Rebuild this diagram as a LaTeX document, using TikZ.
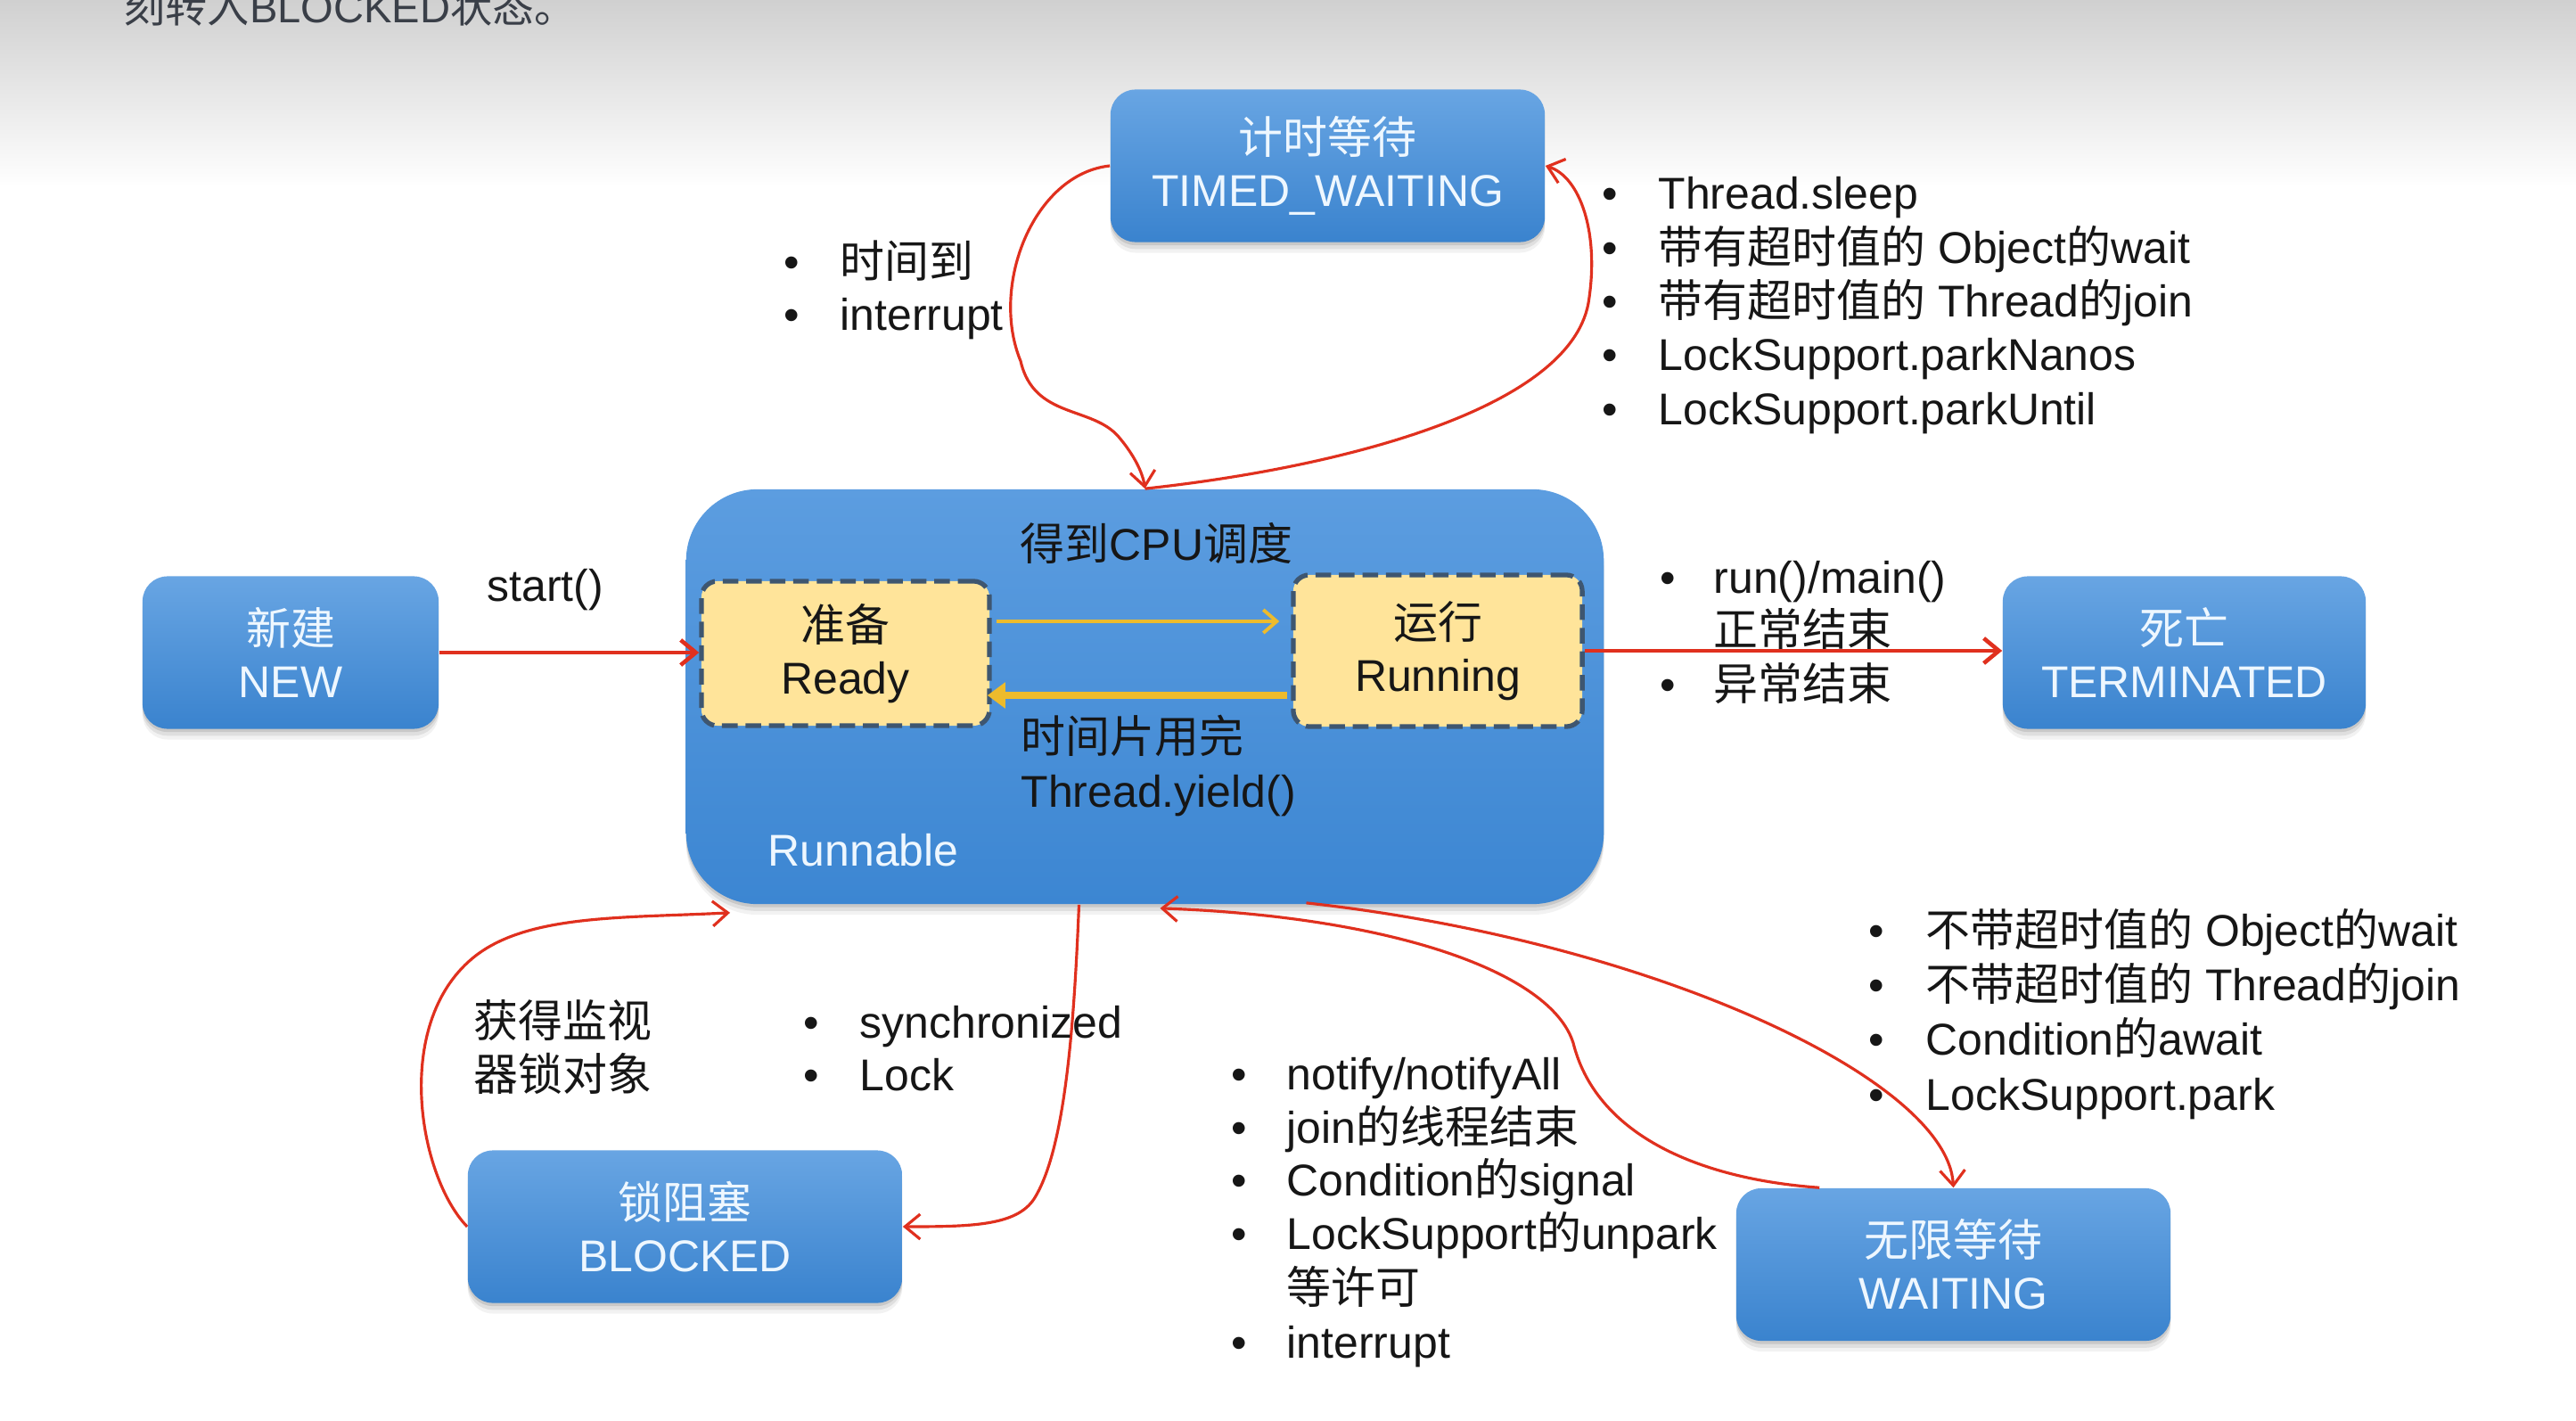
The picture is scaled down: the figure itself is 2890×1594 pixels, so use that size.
\documentclass[tikz,border=0pt]{standalone}
\usepackage{fontspec}
\setmainfont{Liberation Sans}
\newfontfamily\cjkfont{Noto Sans CJK SC}
\newfontfamily\latinfont{Liberation Sans}
\usetikzlibrary{arrows.meta,shadows,calc}
\XeTeXinterchartokenstate=1
\newXeTeXintercharclass\CJKcls
\newcount\cjkcnt
\cjkcnt="4E00
\loop
  \XeTeXcharclass\cjkcnt=\CJKcls
  \advance\cjkcnt by 1
\ifnum\cjkcnt<"A000 \repeat
\XeTeXcharclass"3002=\CJKcls
\XeTeXinterchartoks 0 \CJKcls = {\cjkfont}
\XeTeXinterchartoks 4095 \CJKcls = {\cjkfont}
\XeTeXinterchartoks \CJKcls 0 = {\latinfont}
\XeTeXinterchartoks \CJKcls 4095 = {\latinfont}
\definecolor{boxtop}{HTML}{68A5E3}
\definecolor{boxbot}{HTML}{3A83CE}
\definecolor{runtop}{HTML}{5C9DE0}
\definecolor{runbot}{HTML}{3C86D2}
\definecolor{labelwhite}{HTML}{EEF7FF}
\definecolor{readyfill}{HTML}{FFE49A}
\definecolor{dashcol}{HTML}{3E5670}
\definecolor{goldarrow}{HTML}{EDBB2C}
\definecolor{redline}{HTML}{E0301E}
\definecolor{txt}{HTML}{161616}
\definecolor{bgtop}{HTML}{D0D0D0}
\definecolor{topgray}{HTML}{3A3F48}
\newcommand\dgsize{\fontsize{14.2pt}{16.8pt}\selectfont}
\begin{document}
\begin{tikzpicture}[x=0.01cm,y=-0.01cm,
  softshadow/.style={
    general shadow={shadow xshift=0pt,shadow yshift=-1pt,opacity=0.10,fill=black},
    general shadow={shadow xshift=0pt,shadow yshift=-2.2pt,opacity=0.08,fill=black},
    general shadow={shadow xshift=0pt,shadow yshift=-3.4pt,opacity=0.05,fill=black}},
  state/.style={rectangle, rounded corners=0.28cm, minimum height=1.71cm, inner sep=0pt,
    top color=boxtop, bottom color=boxbot, draw=none, text=labelwhite, align=center, font=\dgsize,
    softshadow},
  runbox/.style={rectangle, rounded corners=0.8cm, minimum width=10.29cm, minimum height=4.65cm,
    inner sep=0pt, top color=runtop, bottom color=runbot, draw=none, softshadow},
  innerbox/.style={rectangle, rounded corners=0.18cm, fill=readyfill, draw=dashcol, line width=1.5pt,
    dash pattern=on 5pt off 2.5pt, inner sep=0pt, align=center, text=txt, font=\dgsize},
  lbl/.style={inner sep=0pt, anchor=west, text height=12.5pt, text depth=1.7pt, font=\dgsize, text=txt},
  bul/.style={lbl, anchor=center},
  redcurve/.style={draw=redline, line width=0.9pt, -{Straight Barb[length=0.17cm,width=0.28cm]}},
  redstraight/.style={draw=redline, line width=1.3pt, -{Straight Barb[length=0.17cm,width=0.28cm]}},
  goldthin/.style={draw=goldarrow, line width=1.1pt, -{Straight Barb[length=0.15cm,width=0.26cm]}},
  goldthick/.style={draw=goldarrow, line width=2.2pt, -{Triangle[length=0.2cm,width=0.28cm]}},
]
\useasboundingbox (0,0) rectangle (2890,1594);
\fill[white] (0,0) rectangle (2890,1594);
\shade[top color=bgtop, bottom color=white] (0,0) rectangle (2890,210);
\node[anchor=base west, inner sep=0pt, font=\fontsize{13.4pt}{16pt}\selectfont, text=topgray] (toptext) at (138,26) {刻转入BLOCKED状态。};

% Runnable container
\node[runbox] (rn) at (1284.5,781.5) {};
\node[innerbox, minimum width=3.23cm, minimum height=1.62cm] (rd) at (948.5,733) {准备\\Ready};
\node[innerbox, minimum width=3.24cm, minimum height=1.70cm] (rg) at (1613,730) {运行\\Running};
\node[lbl, anchor=center] (cpu) at (1297.5,610) {得到CPU调度};
\node[lbl] (slice) at (1145,826) {时间片用完};
\node[lbl] (yield) at (1145,887) {Thread.yield()};
\node[lbl, text=labelwhite] (runl) at (861,953) {Runnable};

% states
\node[state, minimum width=4.87cm] (tw) at (1489.5,186) {计时等待\\TIMED\_WAITING};
\node[state, minimum width=3.32cm] (nw) at (326,732) {新建\\NEW};
\node[state, minimum width=4.07cm] (tm) at (2450.5,732) {死亡\\TERMINATED};
\node[state, minimum width=4.87cm] (bl) at (768.5,1376) {锁阻塞\\BLOCKED};
\node[state, minimum width=4.87cm] (wt) at (2191.5,1418.5) {无限等待\\WAITING};

% gold arrows
\coordinate (ya) at ($(rd.east)+(5,-36)$);
\draw[goldthin, shorten >=0.13cm] (ya) -- (ya -| rg.west);
\coordinate (yb) at ($(rg.west)+(-4,50)$);
\draw[goldthick, shorten >=-0.05cm] (yb) -- (yb -| rd.east);

% straight red arrows
\draw[redstraight] (nw.east) -- (nw.east -| rd.west);
\draw[redstraight] (rg.east) -- (rg.east -| tm.west);

% curved red arrows
\draw[redcurve] (rn.north) .. controls (1500,525) and (1760,460) .. (1782,340)
  .. controls (1795,260) and (1772,198) .. (tw.east);
\draw[redcurve] (tw.west) .. controls (1160,195) and (1110,320) .. (1145,405)
  .. controls (1160,470) and (1225,455) .. (1255,490)
  .. controls (1272,510) and (1282,530) .. (rn.north);
\draw[redcurve] ($(rn.south)+(-74,0)$) .. controls (1205,1150) and (1195,1290) .. (1160,1345)
  .. controls (1140,1375) and (1090,1376) .. (bl.east);
\draw[redcurve] (bl.west) .. controls (470,1320) and (440,1150) .. (530,1075)
  .. controls (590,1025) and (700,1030) .. ($(rn.south west)+(50,9)$);
\draw[redcurve] ($(rn.south)+(181,-2)$) .. controls (1850,1055) and (2185,1210) .. (wt.north);
\draw[redcurve] ($(wt.north west)+(94,0)$) .. controls (1900,1322) and (1790,1270) .. (1765,1170)
  .. controls (1740,1090) and (1560,1028) .. ($(rn.south)+(17,4)$);

% labels
\node[lbl] (startl) at (546,656) {start()};

\node[bul] (tlb1) at (888,293) {•};
\node[lbl] (tl1) at (942,293) {时间到};
\node[bul] (tlb2) at (888,352) {•};
\node[lbl] (tl2) at (942,352) {interrupt};

\foreach \itm [count=\i] in {Thread.sleep,带有超时值的 Object的wait,带有超时值的 Thread的join,LockSupport.parkNanos,LockSupport.parkUntil}{
  \node[lbl] (twr\i) at (1860,{216+60.3*(\i-1)}) {\itm};
  \node[bul] (twb\i) at (1806,{216+60.3*(\i-1)}) {•};
}

\node[bul] (teb1) at (1871,647) {•};
\node[lbl] (te1) at (1922,647) {run()/main()};
\node[lbl] (te2) at (1922,706) {正常结束};
\node[bul] (teb3) at (1871,767) {•};
\node[lbl] (te3) at (1922,767) {异常结束};

\node[lbl] (bk1) at (531,1145) {获得监视};
\node[lbl] (bk2) at (531,1205) {器锁对象};
\node[bul] (syb1) at (910,1146) {•};
\node[lbl] (sy1) at (964,1146) {synchronized};
\node[bul] (syb2) at (910,1205) {•};
\node[lbl] (sy2) at (964,1205) {Lock};

\foreach \itm [count=\i] in {不带超时值的 Object的wait,不带超时值的 Thread的join,Condition的await,LockSupport.park}{
  \node[lbl] (wr\i) at (2160,{1043+61*(\i-1)}) {\itm};
  \node[bul] (wrb\i) at (2105,{1043+61*(\i-1)}) {•};
}

\node[bul] (nlb1) at (1390,1204) {•};
\node[lbl] (nl1) at (1443,1204) {notify/notifyAll};
\node[bul] (nlb2) at (1390,1263) {•};
\node[lbl] (nl2) at (1443,1263) {join的线程结束};
\node[bul] (nlb3) at (1390,1322) {•};
\node[lbl] (nl3) at (1443,1322) {Condition的signal};
\node[bul] (nlb4) at (1390,1382) {•};
\node[lbl] (nl4) at (1443,1382) {LockSupport的unpark};
\node[lbl] (nlx) at (1443,1443) {等许可};
\node[bul] (nlb5) at (1390,1504) {•};
\node[lbl] (nl5) at (1443,1504) {interrupt};
\end{tikzpicture}
\end{document}
